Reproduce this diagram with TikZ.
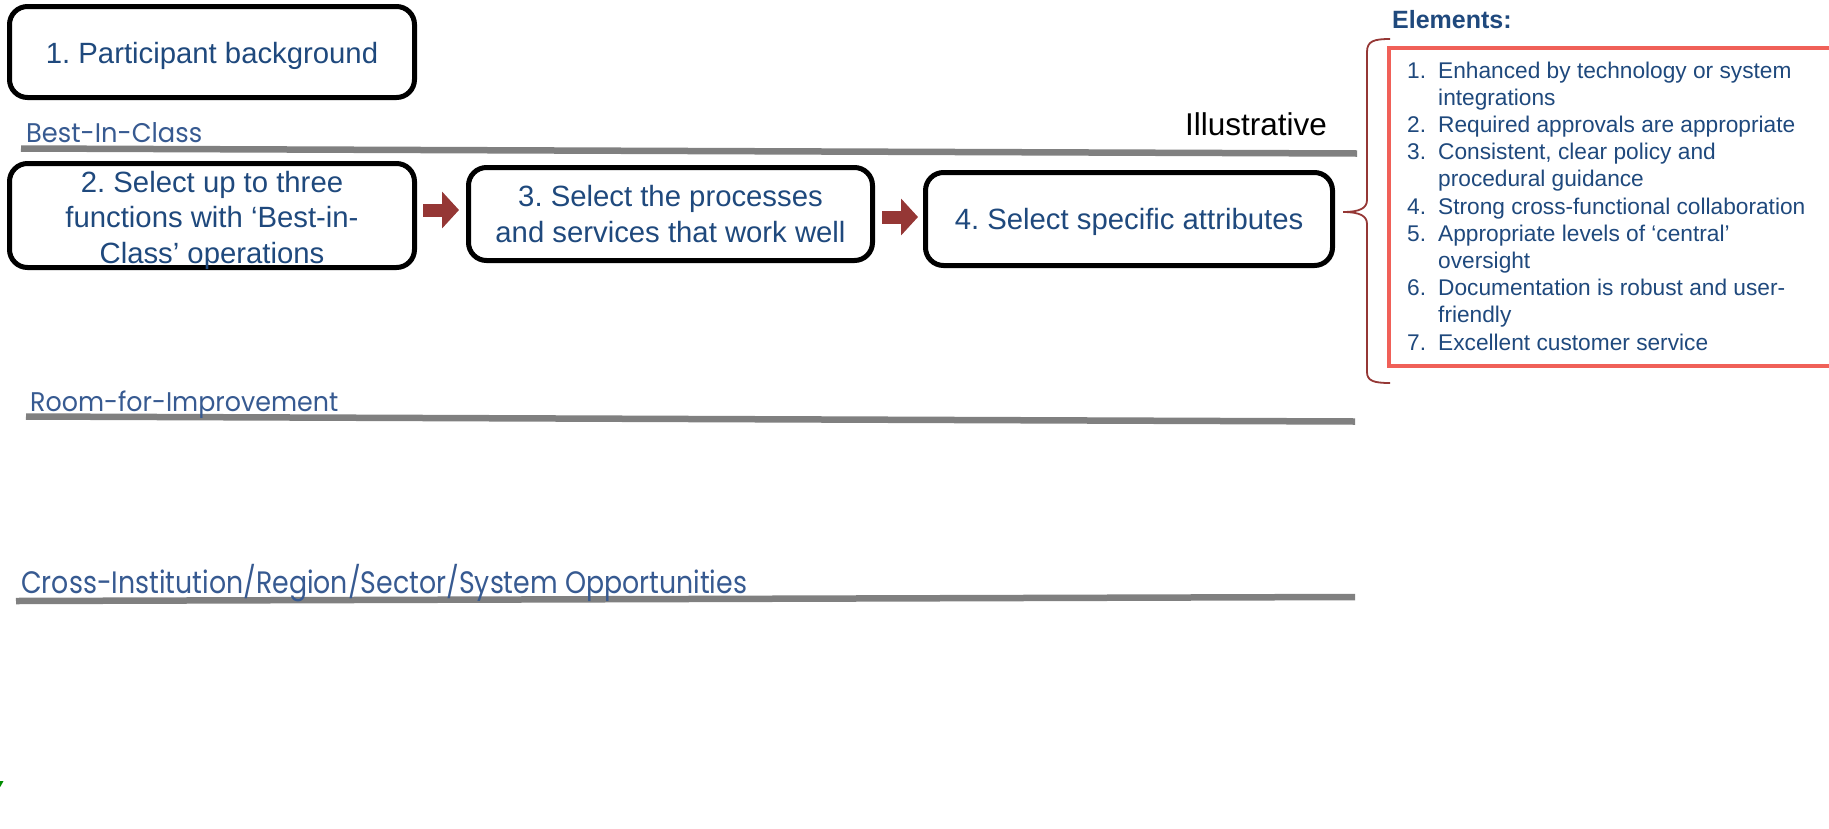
\documentclass[tikz,border=0pt]{standalone}
\usepackage{fontspec}
\usepackage{graphicx}
\setmainfont{Liberation Sans}
\newfontfamily\bandfont{Poppins}
\usetikzlibrary{calc,arrows.meta}
\definecolor{navy}{RGB}{31,73,125}
\definecolor{bandblue}{RGB}{55,90,145}
\definecolor{bandgray}{RGB}{128,128,128}
\definecolor{flowred}{RGB}{149,55,53}
\definecolor{listred}{RGB}{240,96,88}
\frenchspacing
\begin{document}
\begin{tikzpicture}[x=1pt,y=-1pt,
  stepbox/.style={draw=black, line width=5pt, rounded corners=18pt, inner sep=0pt},
  steptext/.style={align=center, text=navy, inner sep=0pt,
    font=\fontsize{29.3}{35.5}\selectfont},
  band/.style={draw=bandgray, line width=6.5pt},
  bandlabel/.style={text=bandblue, anchor=base west, inner sep=0pt},
  flow/.style={draw=flowred, line width=13pt,
    -{Triangle[length=17pt,width=36pt]}},
  listitems/.style={text=navy, anchor=base west, inner sep=0pt,
    font=\fontsize{22.7}{27.2}\selectfont}]
\useasboundingbox[fill=white] (0,0) rectangle (1829,828);

% step boxes
\node[stepbox, minimum width=405pt, minimum height=91pt] (b1) at (212,52) {};
\node[stepbox, minimum width=405pt, minimum height=104pt] (b2) at (212,215.5) {};
\node[stepbox, minimum width=404pt, minimum height=93pt] (b3) at (670.5,214) {};
\node[stepbox, minimum width=407pt, minimum height=93pt] (b4) at (1129,219) {};

% step captions
\node[steptext] (t1) at ([yshift=-3.5pt]b1.center) {1. Participant background};
\node[steptext] (t2) at ([yshift=-4.5pt]b2.center)
  {2. Select up to three\\functions with ‘Best-in-\\Class’ operations};
\node[steptext] (t3) at (b3.center)
  {3. Select the processes\\and services that work well};
\node[steptext] (t4) at ([yshift=-3pt]b4.center) {4. Select specific attributes};

% block arrows between the steps
\coordinate (a1s) at ([xshift=6pt,yshift=5.5pt]b2.east);
\draw[flow, shorten >=7pt] (a1s) -- (a1s -| b3.west);
\coordinate (a2s) at ([xshift=7pt,yshift=-3pt]b3.east);
\draw[flow, shorten >=5pt] (a2s) -- (a2s -| b4.west);

% horizontal bands and their labels
\coordinate (l1a) at (21,148.5);  \coordinate (l1b) at (1357,153.5);
\coordinate (l2a) at (26,416.5);  \coordinate (l2b) at (1355,421.5);
\coordinate (l3a) at (16,601);    \coordinate (l3b) at (1355,597);
\draw[band] (l1a) -- (l1b);
\draw[band] (l2a) -- (l2b);
\draw[band] (l3a) -- (l3b);
\node[bandlabel] (lab1) at (26,142)
  {\resizebox{176pt}{\height}{\bandfont\fontsize{27}{30}\selectfont Best-In-Class}};
\node[bandlabel] (lab2) at (30,411)
  {\resizebox{308pt}{\height}{\bandfont\fontsize{27}{30}\selectfont Room-for-Improvement}};
\node[bandlabel] (lab3) at (21,593)
  {\resizebox{726pt}{\height}{\bandfont\fontsize{31}{34}\selectfont Cross-Institution/Region/Sector/System Opportunities}};

\node[anchor=base east, inner sep=0pt, font=\fontsize{31.5}{35}\selectfont] (illus)
  at (1327,135) {Illustrative};

% elements panel
\node[anchor=base west, inner sep=0pt, text=navy, font=\bfseries\fontsize{25}{29}\selectfont]
  (elhead) at (1392,28) {Elements:};
\draw[listred, line width=4pt] (1835,48) -- (1389,48) -- (1389,366) -- (1835,366);
\draw[flowred, line width=1.8pt]
  (1390,39) .. controls (1374,39) and (1367,41) .. (1367,52) -- (1367,200)
  .. controls (1367,208) and (1360,212) .. (1343,212)
  .. controls (1360,212) and (1367,216) .. (1367,224) -- (1367,372)
  .. controls (1367,381) and (1374,383) .. (1390,383);
\node[listitems] (items) at (1407,78) {%
  \begin{tabular}[t]{@{}l@{}l@{}}
  \makebox[31pt][l]{1.} & Enhanced by technology or system\\
   & integrations\\
  \makebox[31pt][l]{2.} & Required approvals are appropriate\\
  \makebox[31pt][l]{3.} & Consistent, clear policy and\\
   & procedural guidance\\
  \makebox[31pt][l]{4.} & Strong cross-functional collaboration\\
  \makebox[31pt][l]{5.} & Appropriate levels of ‘central’\\
   & oversight\\
  \makebox[31pt][l]{6.} & Documentation is robust and user-\\
   & friendly\\
  \makebox[31pt][l]{7.} & Excellent customer service
  \end{tabular}};

% small green mark at the left edge
\fill[green!55!black] (0,781) -- (3.5,781) -- (0.5,786.5) -- (0,786.5) -- cycle;
\end{tikzpicture}
\end{document}
